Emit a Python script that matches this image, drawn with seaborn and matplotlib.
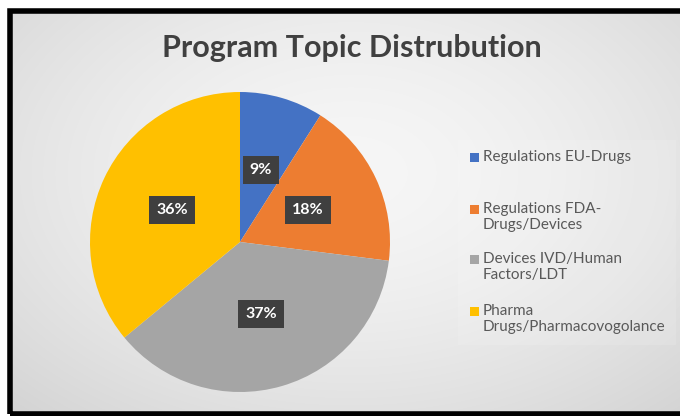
import numpy as np
import matplotlib
matplotlib.use("Agg")
import matplotlib.pyplot as plt
from matplotlib.patches import Rectangle
import seaborn as sns

# ---- data ----
categories = ["Regulations EU-Drugs",
              "Regulations FDA-\nDrugs/Devices",
              "Devices IVD/Human\nFactors/LDT",
              "Pharma\nDrugs/Pharmacovogolance"]
values = [9, 18, 37, 36]
colors = ["#4472C4", "#ED7D31", "#A5A5A5", "#FFC000"]
title = "Program Topic Distrubution"

sns.set_theme(style="white")
plt.rcParams['font.family'] = ['Lato', 'DejaVu Sans']

W, H = 680, 416
fig = plt.figure(figsize=(W / 100, H / 100), dpi=100)
fig.patch.set_facecolor("white")

# background gradient inside the frame
bx0, by0, bx1, by1 = 10, 11, 690, 414
bg = fig.add_axes([bx0 / W, 1 - by1 / H, (bx1 - bx0) / W, (by1 - by0) / H])
yy, xx = np.mgrid[0:200, 0:340]
cx, cy = 170, 80
d = np.sqrt(((xx - cx) / 230.0) ** 2 + ((yy - cy) / 150.0) ** 2)
g = np.clip(0.965 - 0.12 * d ** 1.6, 0.80, 1.0)
bg.imshow(np.dstack([g, g, g]), aspect="auto", interpolation="bilinear")
bg.set_axis_off()

# faint legend area
fig.patches.append(Rectangle((458 / W, 1 - 345 / H), 218 / W, 205 / H,
                             transform=fig.transFigure, fc="white",
                             alpha=0.12, ec="none"))

# pie
cxp, cyp, r = 240, 242, 150
ax = fig.add_axes([(cxp - r) / W, 1 - (cyp + r) / H, 2 * r / W, 2 * r / H])
ax.set_facecolor("none")
wedges, texts, autotexts = ax.pie(
    values, colors=colors, startangle=90, counterclock=False,
    autopct=lambda p: f"{p:.0f}%", pctdistance=0.5,
    wedgeprops=dict(linewidth=0))
for t in autotexts:
    t.set_color("white")
    t.set_fontweight("bold")
    t.set_fontsize(11.5)
    t.set_bbox(dict(boxstyle="square,pad=0.45", fc="#3f3f3f", ec="none"))
ax.set_aspect("equal")
ax.set_xlim(-1, 1)
ax.set_ylim(-1, 1)
ax.set_axis_off()

# title
fig.text(352 / W, 1 - 48 / H, title, ha="center", va="center",
         fontsize=22, fontweight="bold", color="#404040")

# legend (manual, aligned like Excel)
leg_y = [157, 209, 259, 311]
for lab, col, y in zip(categories, colors, leg_y):
    fig.patches.append(Rectangle((470 / W, 1 - (y + 4.5) / H), 9 / W, 9 / H,
                                 transform=fig.transFigure, fc=col, ec="none"))
    fig.text(483 / W, 1 - (y - 7) / H, lab, ha="left", va="top",
             fontsize=11, color="#595959", linespacing=1.2)

# black frame
fig.patches.append(Rectangle((bx0 / W, 1 - by1 / H), (bx1 - bx0) / W, (by1 - by0) / H,
                             transform=fig.transFigure, fill=False,
                             ec="black", lw=4))

fig.savefig("out.png", dpi=100)
